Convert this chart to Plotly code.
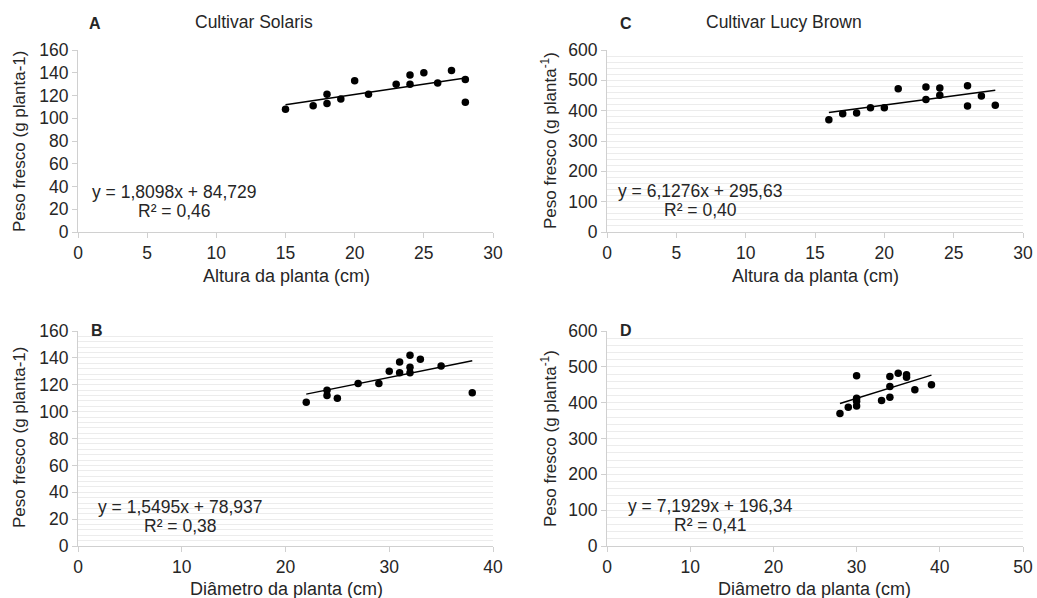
import plotly.graph_objects as go

W, H = 1037, 598

# ---- Data ----
# Panel A: Cultivar Solaris, altura vs peso
a_x = [15, 17, 18, 18, 19, 20, 21, 23, 24, 24, 25, 26, 27, 28, 28]
a_y = [108, 111, 121, 113, 117, 133, 121, 130, 138, 130, 140, 131, 142, 134, 114]
a_coef = (1.8098, 84.729)

# Panel B: Cultivar Solaris, diametro vs peso
b_x = [22, 24, 24, 25, 27, 29, 30, 31, 31, 32, 32, 32, 33, 35, 38]
b_y = [107, 116, 112, 110, 121, 121, 130, 137, 129, 142, 133, 129, 139, 134, 114]
b_coef = (1.5495, 78.937)

# Panel C: Cultivar Lucy Brown, altura vs peso
c_x = [16, 17, 18, 19, 20, 21, 23, 23, 24, 24, 26, 26, 27, 28]
c_y = [370, 390, 392, 410, 410, 472, 478, 437, 475, 451, 482, 415, 448, 418]
c_coef = (6.1276, 295.63)

# Panel D: Cultivar Lucy Brown, diametro vs peso
d_x = [28, 29, 30, 30, 30, 30, 33, 34, 34, 34, 35, 36, 36, 37, 39]
d_y = [370, 387, 475, 412, 404, 391, 406, 473, 445, 415, 482, 478, 471, 436, 450]
d_coef = (7.1929, 196.34)

eq_a = ["y = 1,8098x + 84,729", "R² = 0,46"]
eq_b = ["y = 1,5495x + 78,937", "R² = 0,38"]
eq_c = ["y = 6,1276x + 295,63", "R² = 0,40"]
eq_d = ["y = 7,1929x + 196,34", "R² = 0,41"]

FONT = "Liberation Sans, Arial, sans-serif"
TXT = "#262626"
AXC = "#d0d0d0"
GRID = "#ececec"
FS = 17.5

def px(x):
    return x / W

def py(y):
    return 1 - y / H

fig = go.Figure()

panels = [
    ("", a_x, a_y, a_coef, [0, 30], 5, [0, 160], 20, None, (78, 493, 50, 232)),
    ("2", c_x, c_y, c_coef, [0, 30], 5, [0, 600], 100, 20, (607, 1023, 50, 232)),
    ("3", b_x, b_y, b_coef, [0, 40], 10, [0, 160], 20, 4, (78, 493, 331, 546)),
    ("4", d_x, d_y, d_coef, [0, 50], 10, [0, 600], 100, 20, (607, 1023, 331, 546)),
]

layout = {}
for key, xs, ys, coef, xr, xdt, yr, ydt, minor, (l, r, t, b) in panels:
    xa = "x" + key
    ya = "y" + key
    fig.add_trace(go.Scatter(
        x=xs, y=ys, mode="markers", xaxis=xa, yaxis=ya,
        marker=dict(color="black", size=7.5), showlegend=False, hoverinfo="skip"))
    x0, x1 = min(xs), max(xs)
    fig.add_trace(go.Scatter(
        x=[x0, x1], y=[coef[0] * x0 + coef[1], coef[0] * x1 + coef[1]],
        mode="lines", xaxis=xa, yaxis=ya,
        line=dict(color="black", width=1.5), showlegend=False, hoverinfo="skip"))
    xaxis = dict(
        domain=[px(l), px(r)], range=xr, dtick=xdt, tick0=0, anchor=ya,
        showline=True, linecolor=AXC, linewidth=1, ticks="outside", ticklen=5,
        tickcolor=AXC, showgrid=False, zeroline=False, automargin=False,
        ticklabeloverflow="allow",
        tickfont=dict(family=FONT, size=FS, color=TXT), fixedrange=True)
    yaxis = dict(
        domain=[py(b), py(t)], range=yr, dtick=ydt, tick0=0, anchor=xa,
        showline=True, linecolor=AXC, linewidth=1, ticks="outside", ticklen=5,
        tickcolor=AXC, zeroline=False, automargin=False,
        ticklabeloverflow="allow",
        tickfont=dict(family=FONT, size=FS, color=TXT), fixedrange=True)
    if minor is None:
        yaxis["showgrid"] = False
    else:
        yaxis["showgrid"] = True
        yaxis["gridcolor"] = GRID
        yaxis["gridwidth"] = 1
        yaxis["minor"] = dict(dtick=minor, showgrid=True, gridcolor=GRID, gridwidth=1)
    layout["xaxis" + key] = xaxis
    layout["yaxis" + key] = yaxis

fig.update_layout(**layout)

ann = []

def text(x, y, s, size=FS, bold=False, angle=0, xanchor="center"):
    ann.append(dict(
        x=px(x), y=py(y), xref="paper", yref="paper", text=("<b>%s</b>" % s) if bold else s,
        showarrow=False, xanchor=xanchor, yanchor="middle", textangle=angle,
        font=dict(family=FONT, size=size, color=TXT)))

# panel letters and titles
text(95, 24, "A", size=16, bold=True)
text(254, 22, "Cultivar Solaris")
text(626, 24, "C", size=16, bold=True)
text(784, 22, "Cultivar Lucy Brown")
text(97, 330, "B", size=16, bold=True)
text(626, 330, "D", size=16, bold=True)

# equations
for (cx, y1, y2), eq in [((174, 192, 211), eq_a), ((700, 191, 210), eq_c),
                         ((180, 507, 526), eq_b), ((710, 506, 525), eq_d)]:
    text(cx, y1, eq[0])
    text(cx, y2, eq[1])

# axis titles
text(286, 276, "Altura da planta (cm)", size=18)
text(815, 276, "Altura da planta (cm)", size=18)
text(286, 589, "Diâmetro da planta (cm)", size=18)
text(814, 589, "Diâmetro da planta (cm)", size=18)
text(19, 142, "Peso fresco (g planta-1)", size=17, angle=-90)
text(549, 141, "Peso fresco (g planta<sup>-1</sup>)", size=17, angle=-90)
text(19, 438, "Peso fresco (g planta-1)", size=17, angle=-90)
text(549, 439, "Peso fresco (g planta<sup>-1</sup>)", size=17, angle=-90)

fig.update_layout(
    annotations=ann, width=W, height=H,
    margin=dict(l=0, r=0, t=0, b=0),
    paper_bgcolor="white", plot_bgcolor="white",
    showlegend=False)

fig.write_html(
    "out.html", config={"displayModeBar": False},
    post_script="document.body.style.margin='0';"
                "document.documentElement.style.overflow='hidden';"
                "document.body.style.overflow='hidden';")
